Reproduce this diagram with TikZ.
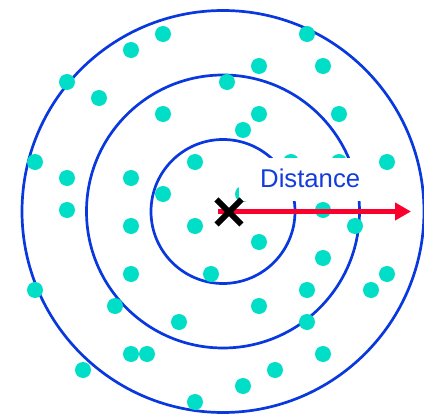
\documentclass[tikz,border=0pt]{standalone}
\usepackage{fontspec}
\setmainfont{Liberation Sans}
\usetikzlibrary{arrows.meta}
\definecolor{ringblue}{RGB}{8,56,222}
\definecolor{dotc}{RGB}{0,222,200}
\definecolor{arrred}{RGB}{250,0,45}
\definecolor{txtblue}{RGB}{18,60,222}
\tikzset{
  ring/.style={draw=ringblue, line width=2.7pt},
  dotstyle/.style={fill=dotc},
  crossline/.style={draw=black, line width=6pt},
  distarrow/.style={draw=arrred, line width=5pt, -{Triangle[length=16pt,width=17pt]}},
  labelbox/.style={fill=white, inner sep=0pt},
  labeltext/.style={text=txtblue, font=\fontsize{25.7}{30}\selectfont, inner sep=0pt}
}
\begin{document}
\begin{tikzpicture}[x=1pt,y=-1pt]
\useasboundingbox (0,0) rectangle (424,417);
\coordinate (c) at (223,211.5);
\draw[ring] (c) circle (72);
\draw[ring] (c) circle (136.5);
\draw[ring] (c) circle (201);
\foreach \px/\py in {163/34,131/50,67/82,99/98,163/114,35/162,67/178,131/178,195/162,163/194,67/210,
  307/34,259/66,323/66,227/82,259/114,243/130,339/114,291/162,339/162,387/162,243/194,323/210,
  131/226,195/226,131/274,211/274,35/290,115/306,179/322,131/354,147/354,83/370,195/402,
  355/226,259/242,323/258,387/274,307/290,371/290,259/306,307/322,323/354,275/370,243/386}
  \fill[dotstyle] (\px,\py) circle (8);
\fill[labelbox] (239,158) rectangle (370,201);
\node[labeltext, anchor=base west] (lbl) at (260,187.5) {Distance};
\coordinate (astart) at (218,211.5);
\coordinate (aend) at (411,211.5);
\draw[distarrow] (astart) -- (aend);
\coordinate (x) at (229,212);
\draw[crossline] ([shift={(-12.5,-12.5)}]x) -- ([shift={(12.5,12.5)}]x);
\draw[crossline] ([shift={(-12.5,12.5)}]x) -- ([shift={(12.5,-12.5)}]x);
\end{tikzpicture}
\end{document}
